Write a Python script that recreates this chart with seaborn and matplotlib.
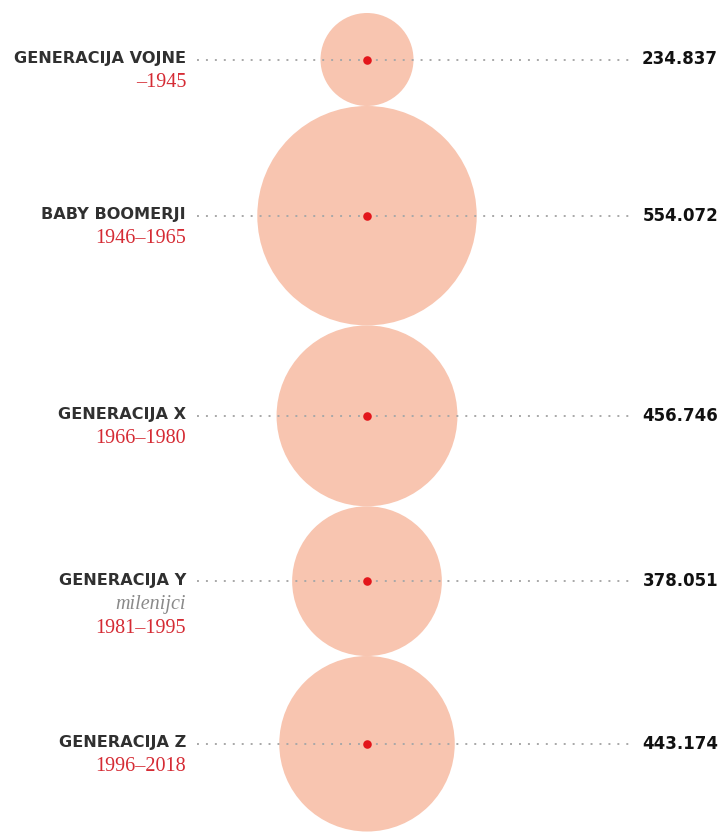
import numpy as np
import pandas as pd
import seaborn as sns
import matplotlib.pyplot as plt
from matplotlib.patches import Circle

# Data
generations = ["GENERACIJA VOJNE", "BABY BOOMERJI", "GENERACIJA X", "GENERACIJA Y", "GENERACIJA Z"]
years = ["\u20131945", "1946\u20131965", "1966\u20131980", "1981\u20131995", "1996\u20132018"]
subtitles = ["", "", "", "milenijci", ""]
counts = [234837, 554072, 456746, 378051, 443174]

sns.set_theme(style="white")
plt.rcParams['font.family'] = ['DejaVu Sans']

# radius proportional to value (pixels per person)
scale = 46.5 / 234837
top = 13
cx = 367

radii = np.array(counts) * scale
centers = top + np.cumsum(2 * radii) - radii

df = pd.DataFrame({"gen": generations, "year": years, "sub": subtitles,
                   "count": counts, "x": cx, "y": centers, "r": radii})

fig = plt.figure(figsize=(7.23, 8.32), dpi=100)
ax = fig.add_axes([0, 0, 1, 1])

for _, row in df.iterrows():
    ax.add_patch(Circle((row.x, row.y), row.r, facecolor='#f8c5b0', edgecolor='none', zorder=1))

# dotted guide lines
ax.hlines(df.y, 197, 630, colors='#a8a8a8', linestyles=(0, (1, 3.6)), linewidth=1.4, zorder=2)

# red centre dots
sns.scatterplot(data=df, x="x", y="y", ax=ax, color='#e3161b', s=38, linewidth=0, zorder=3, legend=False)
ax.set_xlim(0, 723)
ax.set_ylim(832, 0)
ax.axis('off')

for _, row in df.iterrows():
    ax.text(186, row.y - 1, row.gen, ha='right', va='center', fontsize=11.6,
            color='#303030', fontweight='bold')
    off = 23
    if row['sub']:
        ax.text(186, row.y + off, row['sub'], ha='right', va='center', fontsize=14.5,
                color='#8a8a8a', style='italic', family='Liberation Serif')
        off += 24
    ax.text(186, row.y + off, row.year, ha='right', va='center', fontsize=14.5,
            color='#d52b34', family='Liberation Serif')
    ax.text(718, row.y, f"{row['count']:,}".replace(",", "."), ha='right', va='center',
            fontsize=12, color='#111111', fontweight='bold')

fig.savefig("out.png", dpi=100)
